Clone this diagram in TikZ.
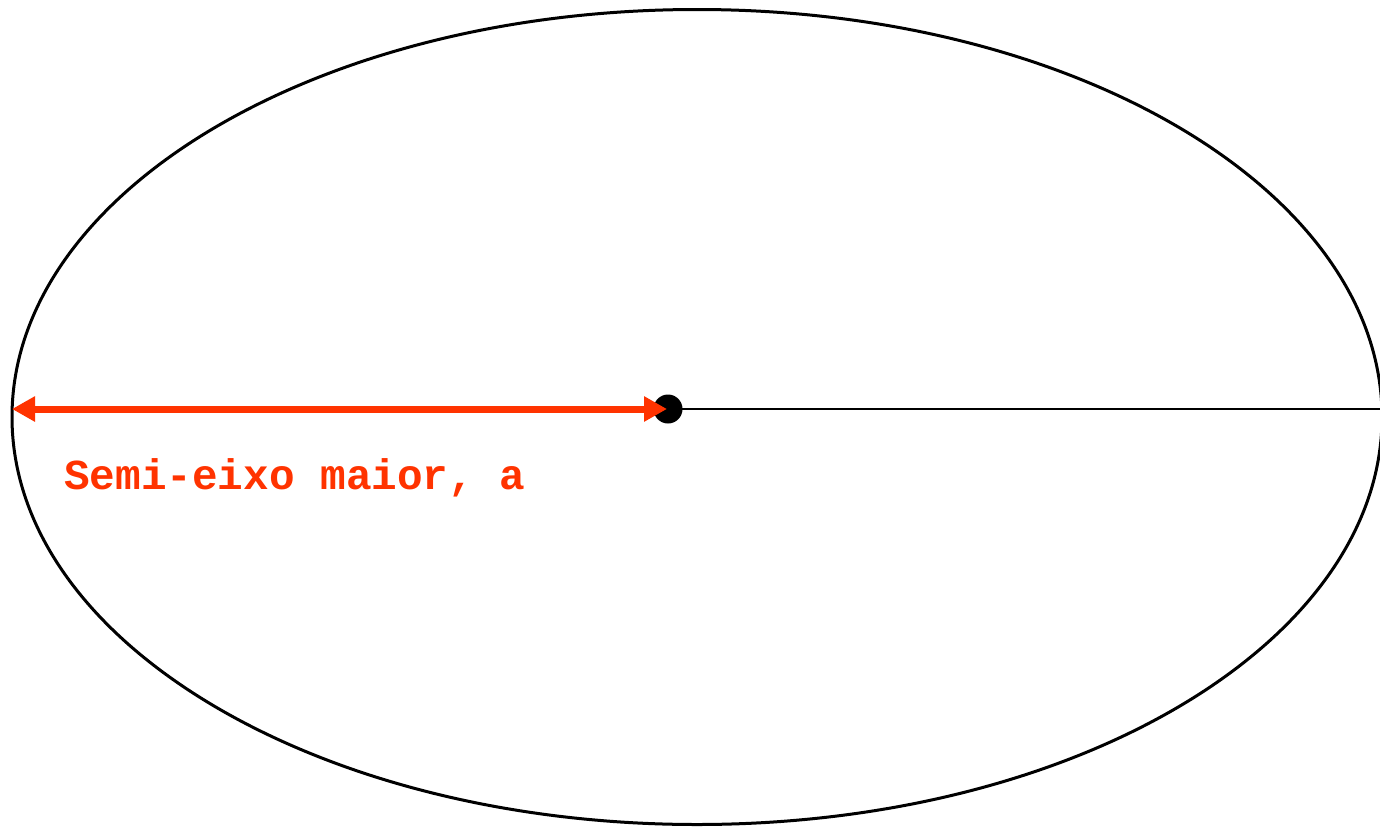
\documentclass[tikz,border=0pt]{standalone}
\usepackage{fontspec}
\newfontfamily\labelfont{Liberation Mono}
\usetikzlibrary{arrows.meta}
\definecolor{arrred}{HTML}{FF3300}
\begin{document}
\begin{tikzpicture}[x=1pt,y=-1pt,
  orbit/.style={draw=black,line width=3pt},
  axisline/.style={draw=black,line width=1.6pt},
  semiarrow/.style={draw=arrred,line width=7pt,{Triangle[length=23pt,width=24pt]}-{Triangle[length=23pt,width=24pt]}},
  centredot/.style={circle,fill=black,inner sep=0pt,minimum size=29pt},
  lbl/.style={text=arrred,font=\labelfont\bfseries\fontsize{42.7}{44}\selectfont,inner sep=0pt,anchor=base west}]
\useasboundingbox (0,0) rectangle (1380,827);
\begin{scope}
\clip (0,0) rectangle (1380,827);
\draw[orbit] (697,417) ellipse [x radius=685, y radius=407.5];
\node[centredot] (c) at (668,409) {};
\coordinate (R) at (1382,409);
\coordinate (L) at (12,409);
\draw[axisline] (c.center) -- (R);
\draw[semiarrow] (L) -- (667,409) coordinate (tip);
\end{scope}
\node[lbl] (t) at (64,489) {Semi-eixo maior, a};
\end{tikzpicture}
\end{document}
